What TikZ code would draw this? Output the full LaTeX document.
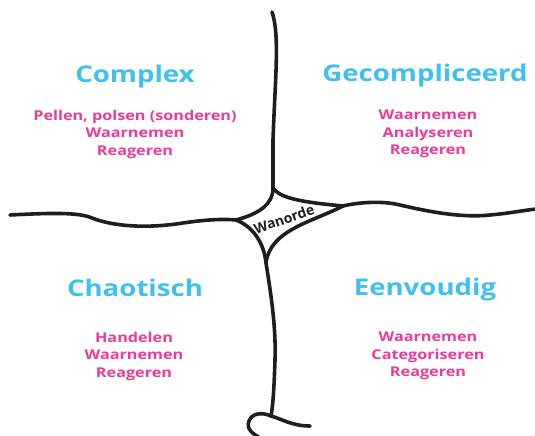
\documentclass[tikz,border=0pt]{standalone}
\usepackage{fontspec}
\setmainfont{Open Sans}
\newfontfamily\stretchfont[FakeStretch=1.2]{Open Sans}
\definecolor{titlecyan}{RGB}{64,192,240}
\definecolor{itempink}{RGB}{236,58,150}
\definecolor{strokegray}{RGB}{30,30,30}
\tikzset{
  titlelabel/.style={font=\stretchfont\bfseries\fontsize{23}{26}\selectfont, text=titlecyan, inner sep=0pt, anchor=center},
  itemlabel/.style={font=\stretchfont\bfseries\fontsize{13.5}{17.5}\selectfont, text=itempink, inner sep=0pt, align=center, anchor=north},
  roughline/.style={line width=3.6pt, draw=strokegray, line cap=round, line join=round},
}
\begin{document}
\begin{tikzpicture}[x=1pt,y=-1pt]
\useasboundingbox (0,0) rectangle (535,436);
% corners of the central Wanorde region
\coordinate (T) at (273,188);
\coordinate (R) at (343,206);
\coordinate (B) at (266,263);
\coordinate (L) at (236,220);
\coordinate (topend) at (272,12);
\coordinate (leftend) at (10,215);
\coordinate (rightend) at (537,209);
\coordinate (curl) at (271,416);
\coordinate (tailend) at (310,426);
\coordinate (loopend) at (264,440);
% lines
\draw[roughline] (topend) .. controls (280,35) and (275,80) .. (273,140) -- (T);
\draw[roughline] (T) .. controls (280,198) and (300,202) .. (R);
\draw[roughline] (R) .. controls (312,222) and (270,230) .. (B);
\draw[roughline] (B) .. controls (264,242) and (252,226) .. (L);
\draw[roughline] (L) .. controls (258,214) and (273,205) .. (T);
\draw[roughline] (leftend) .. controls (50,213) and (78,212) .. (92,218)
  .. controls (112,226) and (145,229) .. (183,223)
  .. controls (210,219) and (226,219) .. (L);
\draw[roughline] (R) .. controls (355,203) and (380,200) .. (400,205)
  .. controls (430,212) and (462,218) .. (490,215)
  .. controls (512,213) and (525,210) .. (rightend);
\draw[roughline] (B) .. controls (272,300) and (276,330) .. (275,360)
  .. controls (274,390) and (273,405) .. (curl);
\draw[roughline] (curl) .. controls (262,412) and (252,413) .. (249,421)
  .. controls (246,429) and (252,434) .. (loopend);
\draw[roughline] (curl) .. controls (282,419) and (292,426) .. (tailend);
% central label
\node[font=\fontsize{14}{16}\selectfont\bfseries, text=strokegray, rotate=19, inner sep=0pt] (wanorde) at (284,219) {Wanorde};
% quadrant titles
\node[titlelabel] (complex) at (135,77) {Complex};
\node[titlelabel] (gecompliceerd) at (425,76) {Gecompliceerd};
\node[titlelabel] (chaotisch) at (135,288) {Chaotisch};
\node[titlelabel] (eenvoudig) at (425,290) {Eenvoudig};
% quadrant items
\node[itemlabel] (complexitems) at (135,110) {Pellen, polsen (sonderen)\\Waarnemen\\Reageren};
\node[itemlabel] (gecomplitems) at (428,110) {Waarnemen\\Analyseren\\Reageren};
\node[itemlabel] (chaositems) at (134,332) {Handelen\\Waarnemen\\Reageren};
\node[itemlabel] (eenvitems) at (428,332) {Waarnemen\\Categoriseren\\Reageren};
\end{tikzpicture}
\end{document}
